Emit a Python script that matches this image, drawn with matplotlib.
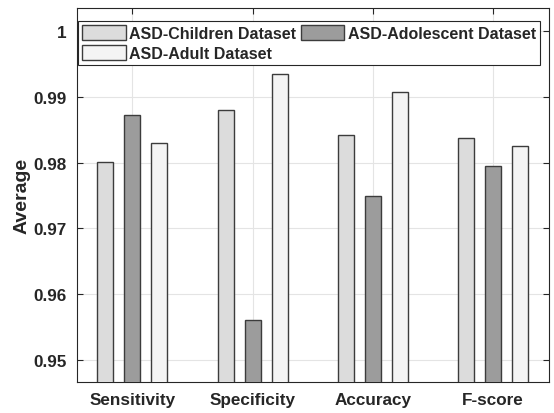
import numpy as np
import matplotlib
matplotlib.use("Agg")
import matplotlib.pyplot as plt

plt.rcParams["font.family"] = ["Liberation Sans", "DejaVu Sans"]
plt.rcParams["font.weight"] = "bold"
plt.rcParams["axes.labelweight"] = "bold"

metrics = ["Sensitivity", "Specificity", "Accuracy", "F-score"]
children = [0.9801, 0.9881, 0.9843, 0.9837]
adolescent = [0.9873, 0.9561, 0.9750, 0.9795]
adult = [0.9830, 0.9935, 0.9907, 0.9826]
y_ticks = [0.95, 0.96, 0.97, 0.98, 0.99, 1.0]
y_tick_labels = ["0.95", "0.96", "0.97", "0.98", "0.99", "1"]

ink = "#262626"
fig = plt.figure(figsize=(5.54, 4.14), dpi=100)
ax = fig.add_axes([0.1384, 0.0742, 0.852, 0.9033])

x = np.arange(1, len(metrics) + 1)
w = 0.133
off = 0.2245
edge = dict(edgecolor="#3c3c3c", linewidth=1.0, zorder=3)
b1 = ax.bar(x - off, children, w, color="#dcdcdc", label="ASD-Children Dataset", **edge)
b2 = ax.bar(x, adolescent, w, color="#9c9c9c", label="ASD-Adolescent Dataset", **edge)
b3 = ax.bar(x + off, adult, w, color="#f4f4f4", label="ASD-Adult Dataset", **edge)

ax.set_xlim(0.538, 4.462)
ax.set_ylim(0.9466, 1.0035)
ax.set_xticks(x)
ax.set_xticklabels(metrics)
ax.set_yticks(y_ticks)
ax.set_yticklabels(y_tick_labels)
ax.tick_params(direction="in", length=4, width=0.8, colors=ink, labelsize=12.3,
               top=True, right=True, pad=7)
ax.set_ylabel("Average", fontsize=14, color=ink, labelpad=2)
ax.grid(True, color="#e4e4e4", linewidth=0.8, zorder=0)
ax.set_axisbelow(True)
for s in ax.spines.values():
    s.set_color(ink)
    s.set_linewidth(0.8)

leg = ax.legend(handles=[b1, b3, b2], ncol=2, loc="upper left",
                bbox_to_anchor=(0.002, 0.9668), borderaxespad=0,
                fontsize=11.5, handlelength=2.75, handleheight=1.05,
                handletextpad=0.2, columnspacing=0.3, labelspacing=0.3,
                borderpad=0.25, fancybox=False, framealpha=1)
leg.get_frame().set_edgecolor(ink)
leg.get_frame().set_linewidth(0.8)
for t in leg.get_texts():
    t.set_color(ink)

fig.savefig("out.png", dpi=100)
